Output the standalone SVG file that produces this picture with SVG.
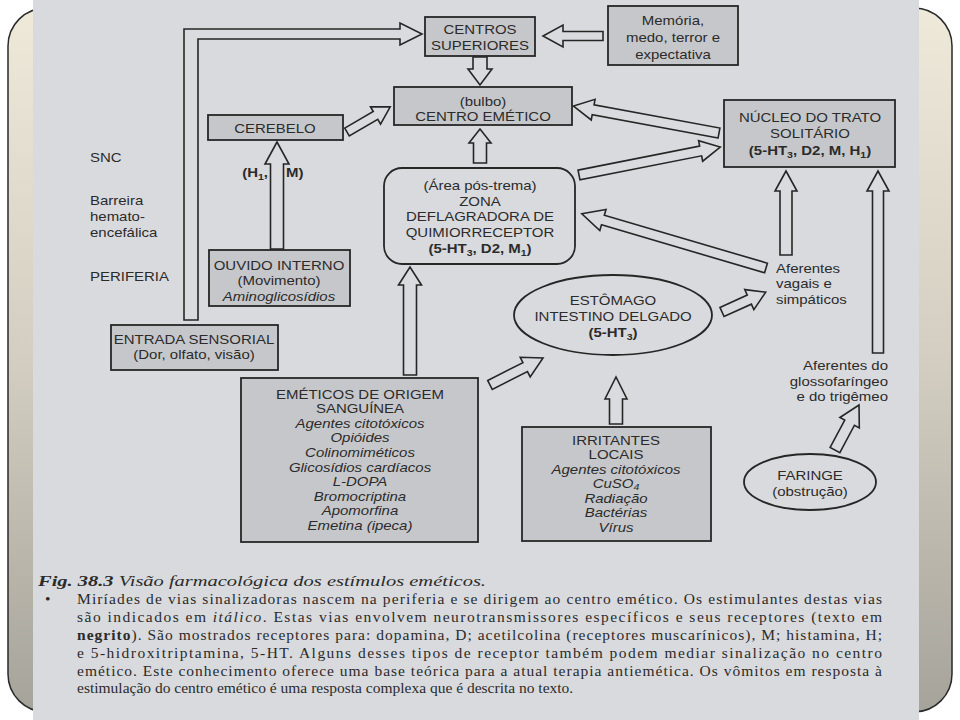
<svg xmlns="http://www.w3.org/2000/svg" width="960" height="720" viewBox="0 0 960 720">
<defs>
<linearGradient id="frameGrad" x1="0" y1="0" x2="0" y2="1">
<stop offset="0" stop-color="#efe9da"/>
<stop offset="0.5" stop-color="#d3cec1"/>
<stop offset="1" stop-color="#a6a39b"/>
</linearGradient>
<style>
.box{fill:#c6c7ca;stroke:#262626;stroke-width:1.8}
.plain{fill:none;stroke:#262626;stroke-width:1.8}
.arrow{fill:#dadbde;stroke:#262626;stroke-width:1.6;stroke-linejoin:miter}
.t{font-family:"Liberation Sans",Arial,sans-serif;font-size:12.8px;fill:#2b2b2b;text-anchor:middle}
.l{text-anchor:start}
.r{text-anchor:end}
.i{font-style:italic}
.b{font-weight:bold}
.sub{font-size:9px}
.cap{font-family:"Liberation Serif","Times New Roman",serif;font-size:15.5px;fill:#2b2b2b}
</style>
</defs>
<rect x="0" y="0" width="960" height="720" fill="#ffffff"/>
<rect x="8" y="8" width="944" height="704" rx="38" fill="url(#frameGrad)" stroke="#2a2a2a" stroke-width="1.5"/>
<rect x="33" y="0" width="886" height="720" fill="#d9dadd"/>

<g id="connectors">
<path class="arrow" transform="translate(603,36) rotate(180)" d="M0,-4.5 H40 V-11 L60,0 L40,11 V4.5 H0 Z"/>
<path class="arrow" transform="translate(480,57) rotate(90)" d="M0,-7 H12 V-12 L28,0 L12,12 V7 H0 Z"/>
<path class="arrow" transform="translate(480,163) rotate(-90)" d="M0,-6.5 H20 V-11 L34,0 L20,11 V6.5 H0 Z"/>
<path class="arrow" transform="translate(347,132) rotate(-30.2)" d="M0,-4.5 H33 V-10 L50,0 L33,10 V4.5 H0 Z"/>
<path class="arrow" transform="translate(277,249) rotate(-90)" d="M0,-6.5 H85 V-12 L107,0 L85,12 V6.5 H0 Z"/>
<path class="arrow" d="M184,320 L184,29 L400,29 L400,23 L422,34 L400,45 L400,39 L198,39 L198,320 Z"/>
<path class="arrow" transform="translate(579,175) rotate(-11.2)" d="M0,-5 H124 V-10.5 L144,0 L124,10.5 V5 H0 Z"/>
<path class="arrow" transform="translate(719,133) rotate(-169.5)" d="M0,-5 H128 V-10.5 L148,0 L128,10.5 V5 H0 Z"/>
<path class="arrow" transform="translate(786,255) rotate(-90)" d="M0,-6 H64 V-11 L84,0 L64,11 V6 H0 Z"/>
<path class="arrow" transform="translate(878,353) rotate(-90)" d="M0,-5.5 H162 V-11 L182,0 L162,11 V5.5 H0 Z"/>
<path class="arrow" transform="translate(766,268) rotate(-163.6)" d="M0,-5 H170 V-11 L192,0 L170,11 V5 H0 Z"/>
<path class="arrow" transform="translate(722,312) rotate(-24.4)" d="M0,-5 H30 V-11 L48,0 L30,11 V5 H0 Z"/>
<path class="arrow" transform="translate(835,450) rotate(-61.9)" d="M0,-5.5 H31 V-11 L51,0 L31,11 V5.5 H0 Z"/>
<path class="arrow" transform="translate(410,375) rotate(-90)" d="M0,-6.5 H90 V-11.5 L108,0 L90,11.5 V6.5 H0 Z"/>
<path class="arrow" transform="translate(490,385) rotate(-27)" d="M0,-5 H39.5 V-11 L59.5,0 L39.5,11 V5 H0 Z"/>
<path class="arrow" transform="translate(616,424) rotate(-90)" d="M0,-6.5 H25 V-11 L47,0 L25,11 V6.5 H0 Z"/>
<g transform="translate(268,0) scale(1.17,1)"><text class="t b r" x="0" y="177">(H<tspan class="sub" dy="3">1</tspan><tspan dy="-3">,</tspan></text></g>
<g transform="translate(286,0) scale(1.17,1)"><text class="t b l" x="0" y="177">M)</text></g>
</g>

<g id="labels-left" transform="translate(90,0) scale(1.17,1)">
<text class="t l" x="0" y="162">SNC</text>
<text class="t l" x="0" y="205">Barreira</text>
<text class="t l" x="0" y="221">hemato-</text>
<text class="t l" x="0" y="237">encefálica</text>
<text class="t l" x="0" y="281">PERIFERIA</text>
</g>

<g id="centros-superiores">
<rect class="box" x="425" y="17" width="110" height="39"/>
<g transform="translate(480,0) scale(1.17,1)">
<text class="t" x="0" y="34">CENTROS</text>
<text class="t" x="0" y="50">SUPERIORES</text>
</g>
</g>

<g id="memoria">
<rect class="box" x="608" y="6" width="130" height="59"/>
<g transform="translate(673,0) scale(1.17,1)">
<text class="t" x="0" y="25">Memória,</text>
<text class="t" x="0" y="42">medo, terror e</text>
<text class="t" x="0" y="59">expectativa</text>
</g>
</g>

<g id="centro-emetico">
<rect class="box" x="394" y="87" width="178" height="38"/>
<g transform="translate(483,0) scale(1.17,1)">
<text class="t" x="0" y="106">(bulbo)</text>
<text class="t" x="0" y="121">CENTRO EMÉTICO</text>
</g>
</g>

<g id="cerebelo">
<rect class="box" x="208" y="115" width="135" height="25"/>
<g transform="translate(275,0) scale(1.17,1)">
<text class="t" x="0" y="133">CEREBELO</text>
</g>
</g>

<g id="ouvido-interno">
<rect class="box" x="209" y="250" width="141" height="56"/>
<g transform="translate(279,0) scale(1.17,1)">
<text class="t" x="0" y="270">OUVIDO INTERNO</text>
<text class="t" x="0" y="285">(Movimento)</text>
<text class="t i" x="0" y="301">Aminoglicosídios</text>
</g>
</g>

<g id="entrada-sensorial">
<rect class="box" x="111" y="325" width="167" height="45"/>
<g transform="translate(194,0) scale(1.17,1)">
<text class="t" x="0" y="344">ENTRADA SENSORIAL</text>
<text class="t" x="0" y="359">(Dor, olfato, visão)</text>
</g>
</g>

<g id="zona">
<rect class="plain" x="384" y="168" width="191" height="96" rx="18"/>
<g transform="translate(480,0) scale(1.17,1)">
<text class="t" x="0" y="190">(Área pós-trema)</text>
<text class="t" x="0" y="206">ZONA</text>
<text class="t" x="0" y="221">DEFLAGRADORA DE</text>
<text class="t" x="0" y="237">QUIMIORRECEPTOR</text>
<text class="t b" x="0" y="253">(5-HT<tspan class="sub" dy="3">3</tspan><tspan dy="-3">, D2, M</tspan><tspan class="sub" dy="3">1</tspan><tspan dy="-3">)</tspan></text>
</g>
</g>

<g id="nucleo">
<rect class="box" x="724" y="100" width="171" height="67"/>
<g transform="translate(810,0) scale(1.17,1)">
<text class="t" x="0" y="122">NÚCLEO DO TRATO</text>
<text class="t" x="0" y="138">SOLITÁRIO</text>
<text class="t b" x="0" y="155">(5-HT<tspan class="sub" dy="3">3</tspan><tspan dy="-3">, D2, M, H</tspan><tspan class="sub" dy="3">1</tspan><tspan dy="-3">)</tspan></text>
</g>
</g>

<g id="aferentes-vagais" transform="translate(776,0) scale(1.17,1)">
<text class="t l" x="0" y="273">Aferentes</text>
<text class="t l" x="0" y="288">vagais e</text>
<text class="t l" x="0" y="304">simpáticos</text>
</g>

<g id="estomago">
<ellipse class="plain" cx="613" cy="315" rx="99" ry="40"/>
<g transform="translate(613,0) scale(1.17,1)">
<text class="t" x="0" y="305">ESTÔMAGO</text>
<text class="t" x="0" y="321">INTESTINO DELGADO</text>
<text class="t b" x="0" y="337">(5-HT<tspan class="sub" dy="3">3</tspan><tspan dy="-3">)</tspan></text>
</g>
</g>

<g id="aferentes-glosso" transform="translate(888,0) scale(1.17,1)">
<text class="t r" x="0" y="370">Aferentes do</text>
<text class="t r" x="0" y="386">glossofaríngeo</text>
<text class="t r" x="0" y="401">e do trigêmeo</text>
</g>

<g id="faringe">
<ellipse class="plain" cx="810" cy="482" rx="66" ry="28"/>
<g transform="translate(810,0) scale(1.17,1)">
<text class="t" x="0" y="480">FARINGE</text>
<text class="t" x="0" y="496">(obstrução)</text>
</g>
</g>

<g id="emeticos">
<rect class="box" x="241" y="378" width="237" height="164"/>
<g transform="translate(360,0) scale(1.17,1)">
<text class="t" x="0" y="399">EMÉTICOS DE ORIGEM</text>
<text class="t" x="0" y="413">SANGUÍNEA</text>
<text class="t i" x="0" y="428">Agentes citotóxicos</text>
<text class="t i" x="0" y="442">Opióides</text>
<text class="t i" x="0" y="457">Colinomiméticos</text>
<text class="t i" x="0" y="472">Glicosídios cardíacos</text>
<text class="t i" x="0" y="486">L-DOPA</text>
<text class="t i" x="0" y="501">Bromocriptina</text>
<text class="t i" x="0" y="515">Apomorfina</text>
<text class="t i" x="0" y="530">Emetina (ipeca)</text>
</g>
</g>

<g id="irritantes">
<rect class="box" x="522" y="427" width="189" height="114"/>
<g transform="translate(616,0) scale(1.17,1)">
<text class="t" x="0" y="445">IRRITANTES</text>
<text class="t" x="0" y="459">LOCAIS</text>
<text class="t i" x="0" y="474">Agentes citotóxicos</text>
<text class="t i" x="0" y="488">CuSO<tspan class="sub" dy="2">4</tspan></text>
<text class="t i" x="0" y="503">Radiação</text>
<text class="t i" x="0" y="517">Bactérias</text>
<text class="t i" x="0" y="532">Vírus</text>
</g>
</g>

<g id="caption">
<text class="cap" x="38" y="586" font-size="17" font-weight="bold" font-style="italic" textLength="448" lengthAdjust="spacingAndGlyphs">Fig. 38.3 <tspan font-weight="normal">Visão farmacológica dos estímulos eméticos.</tspan></text>
<text class="cap" x="45" y="604">•</text>
<text class="cap" x="77" y="604" textLength="805" lengthAdjust="spacing">Miríades de vias sinalizadoras nascem na periferia e se dirigem ao centro emético. Os estimulantes destas vias</text>
<text class="cap" x="77" y="622" textLength="805" lengthAdjust="spacing">são indicados em <tspan font-style="italic">itálico</tspan>. Estas vias envolvem neurotransmissores específicos e seus receptores (texto em</text>
<text class="cap" x="77" y="640" textLength="805" lengthAdjust="spacing"><tspan font-weight="bold">negrito</tspan>). São mostrados receptores para: dopamina, D; acetilcolina (receptores muscarínicos), M; histamina, H;</text>
<text class="cap" x="77" y="658" textLength="805" lengthAdjust="spacing">e 5-hidroxitriptamina, 5-HT. Alguns desses tipos de receptor também podem mediar sinalização no centro</text>
<text class="cap" x="77" y="676" textLength="805" lengthAdjust="spacing">emético. Este conhecimento oferece uma base teórica para a atual terapia antiemética. Os vômitos em resposta à</text>
<text class="cap" x="77" y="693">estimulação do centro emético é uma resposta complexa que é descrita no texto.</text>
</g>
</svg>
